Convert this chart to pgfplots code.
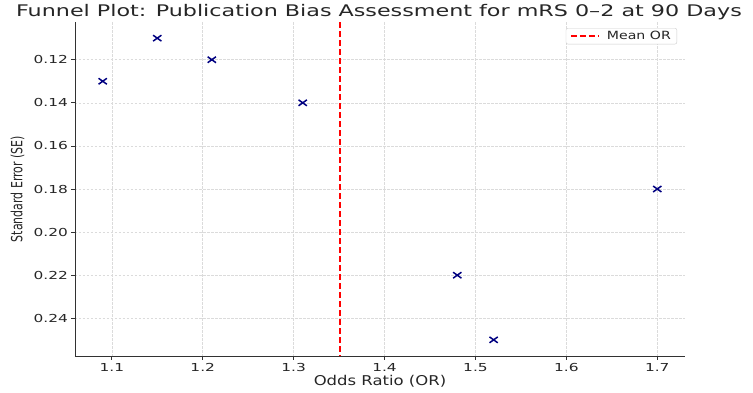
\documentclass[border=0pt]{standalone}
\usepackage{pgfplots}
\pgfplotsset{compat=1.18}
\usepackage{fontspec}
\setmainfont{DejaVu Sans}
\newfontfamily\fTitle{DejaVu Sans}[FakeStretch=1.39]
\newfontfamily\fTick{DejaVu Sans}[FakeStretch=1.4]
\newfontfamily\fLab{DejaVu Sans}[FakeStretch=1.22]
\newfontfamily\fLeg{DejaVu Sans}[FakeStretch=1.25]
\definecolor{navy}{RGB}{0,0,128}
\definecolor{axgray}{RGB}{50,50,50}
\begin{document}
\begin{tikzpicture}
\useasboundingbox (-75pt,-36pt) rectangle (678pt,356pt);
\begin{axis}[
  at={(0pt,0pt)}, anchor=south west,
  scale only axis, width=610pt, height=334pt,
  xmin=1.0595, xmax=1.7305,
  ymin=0.1025, ymax=0.2575,
  y dir=reverse,
  axis x line*=bottom, axis y line*=left,
  axis line style={axgray, line width=0.9pt, -},
  tick align=outside, major tick length=3.5pt,
  tick style={axgray, line width=0.8pt},
  xtick={1.1,1.2,1.3,1.4,1.5,1.6,1.7},
  ytick={0.12,0.14,0.16,0.18,0.20,0.22,0.24},
  /pgf/number format/assume math mode=true,
  xticklabel style={font=\fTick\fontsize{11}{12}\selectfont, text=black!85, /pgf/number format/fixed, /pgf/number format/fixed zerofill, /pgf/number format/precision=1},
  yticklabel style={font=\fTick\fontsize{11}{12}\selectfont, text=black!85, /pgf/number format/fixed, /pgf/number format/fixed zerofill, /pgf/number format/precision=2},
  scaled ticks=false,
  grid=major,
  major grid style={gray!28, line width=0.6pt, dash pattern=on 2.5pt off 1.5pt},
  title={Funnel Plot: Publication Bias Assessment for mRS 0–2 at 90 Days},
  title style={at={(axis description cs:0.5,1)}, anchor=base, yshift=-0.8pt, xshift=-1pt, font=\fTitle\fontsize{16}{18}\selectfont, text=black!85},
  xlabel={Odds Ratio (OR)},
  xlabel style={at={(axis description cs:0.5,0)}, anchor=base, yshift=-29pt, font=\fLab\fontsize{13.5}{15}\selectfont, text=black!85},
  ylabel={Standard Error (SE)},
  ylabel style={at={(axis description cs:-0.0943,0.5)}, anchor=center, yscale=1.4, font=\fontsize{11}{12}\selectfont, text=black!85},
  legend style={at={(0.987,0.982)}, anchor=north east, font=\fLeg\fontsize{11.3}{12}\selectfont, draw=black!20, rounded corners=2pt, inner xsep=4pt, inner ysep=1pt, text=black!85},
  legend image code/.code={\draw[#1] (0pt,0pt) -- (28pt,0pt); \path (33pt,0pt);},
]
\addplot[only marks, mark=x, mark size=4.2pt, color=navy, mark options={xscale=1.4, line width=1.5pt}, forget plot] coordinates {
  (1.09,0.13) (1.15,0.11) (1.21,0.12) (1.31,0.14) (1.48,0.22) (1.52,0.25) (1.70,0.18)
};
\addplot[red, line width=2pt, dash pattern=on 6pt off 3pt] coordinates {(1.3514,0.1025) (1.3514,0.2575)};
\addlegendentry{Mean OR}
\end{axis}
\end{tikzpicture}
\end{document}
